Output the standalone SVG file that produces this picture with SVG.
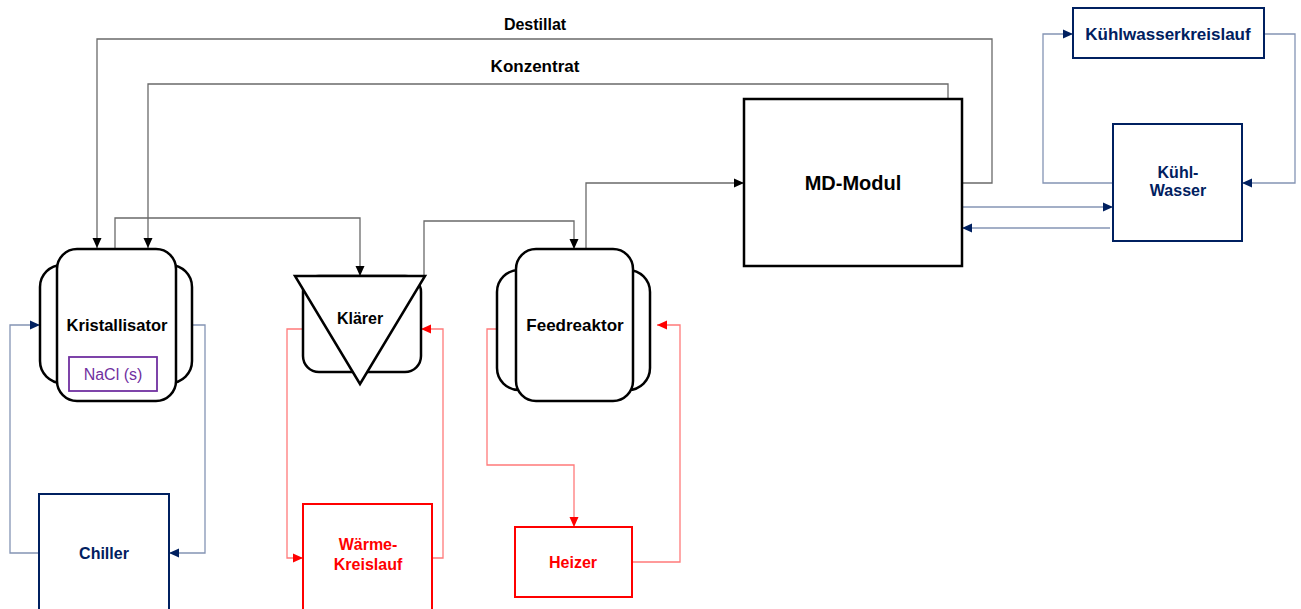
<svg xmlns="http://www.w3.org/2000/svg" width="1301" height="609" viewBox="0 0 1301 609">
<style>
text{font-family:"Liberation Sans",Arial,sans-serif;font-weight:bold;text-anchor:middle}
text.p{font-weight:normal;fill:#7030A0}
.k{fill:#000}
.n{fill:#002060}
.r{fill:#FF0000}
.vessel{fill:#fff;stroke:#000;stroke-width:2.5}
.box-n{fill:#fff;stroke:#002060;stroke-width:2}
.box-r{fill:#fff;stroke:#FF0000;stroke-width:2}
.ck{fill:none;stroke:#6a6a6a;stroke-width:1.3}
.cn{fill:none;stroke:#8494B4;stroke-width:1.3}
.cr{fill:none;stroke:#FF7A7A;stroke-width:1.3}
</style>
<defs>
<marker id="ak" markerUnits="userSpaceOnUse" markerWidth="10" markerHeight="10" refX="10" refY="5" orient="auto"><path d="M0,0.5 L10,5 L0,9.5 z" fill="#000"/></marker>
<marker id="an" markerUnits="userSpaceOnUse" markerWidth="10" markerHeight="10" refX="10" refY="5" orient="auto"><path d="M0,0.5 L10,5 L0,9.5 z" fill="#002060"/></marker>
<marker id="ar" markerUnits="userSpaceOnUse" markerWidth="10" markerHeight="10" refX="10" refY="5" orient="auto"><path d="M0,0.5 L10,5 L0,9.5 z" fill="#FF0000"/></marker>
</defs>
<rect width="1301" height="609" fill="#fff"/>

<g id="connectors">
<path class="ck" d="M962,183 H992 V39 H97 V248" marker-end="url(#ak)"/>
<path class="ck" d="M948,99 V84 H148 V248" marker-end="url(#ak)"/>
<path class="ck" d="M115,248 V218 H360 V276" marker-end="url(#ak)"/>
<path class="ck" d="M424,276 V221 H574 V249" marker-end="url(#ak)"/>
<path class="ck" d="M586,249 V183 H744" marker-end="url(#ak)"/>
<path class="cn" d="M962,207 H1113" marker-end="url(#an)"/>
<path class="cn" d="M1110,228 H962" marker-end="url(#an)"/>
<path class="cn" d="M1113,183 H1043 V34 H1073" marker-end="url(#an)"/>
<path class="cn" d="M1264,34 H1295 V183 H1242" marker-end="url(#an)"/>
<path class="cn" d="M39,553 H10 V325 H40" marker-end="url(#an)"/>
<path class="cn" d="M192,325 H205 V553 H169" marker-end="url(#an)"/>
<path class="cr" d="M303,329 H287 V558 H303" marker-end="url(#ar)"/>
<path class="cr" d="M432,558 H443 V329 H421" marker-end="url(#ar)"/>
<path class="cr" d="M497,329 H487 V465 H574 V527" marker-end="url(#ar)"/>
<path class="cr" d="M632,562 H680 V325 H657" marker-end="url(#ar)"/>
<text class="k" x="535" y="30" font-size="16">Destillat</text>
<text class="k" x="535" y="72" font-size="17">Konzentrat</text>
</g>

<g id="kristallisator">
<rect class="vessel" x="40" y="265" width="152" height="118" rx="22"/>
<rect class="vessel" x="57" y="249" width="119" height="152" rx="20"/>
<text class="k" x="117" y="331" font-size="16.5">Kristallisator</text>
<rect x="69" y="357" width="88" height="34" fill="#fff" stroke="#7030A0" stroke-width="1.8"/>
<text class="p" x="113" y="380" font-size="16">NaCl (s)</text>
</g>

<g id="klaerer">
<rect class="vessel" x="303" y="276" width="118" height="96" rx="16"/>
<path class="vessel" d="M295,276 H425 L360,384 z" stroke-linejoin="miter"/>
<text class="k" x="360" y="324" font-size="16">Klärer</text>
</g>

<g id="feedreaktor">
<rect class="vessel" x="497" y="270" width="153" height="120" rx="22"/>
<rect class="vessel" x="516" y="249" width="117" height="152" rx="20"/>
<text class="k" x="575" y="331" font-size="17">Feedreaktor</text>
</g>

<g id="md-modul">
<rect class="vessel" x="744" y="99" width="218" height="167"/>
<text class="k" x="853" y="190" font-size="20">MD-Modul</text>
</g>

<g id="kuehlwasserkreislauf">
<rect class="box-n" x="1073" y="8" width="191" height="50"/>
<text class="n" x="1168" y="40" font-size="17">Kühlwasserkreislauf</text>
</g>

<g id="kuehl-wasser">
<rect class="box-n" x="1113" y="124" width="129" height="117"/>
<text class="n" x="1178" y="178" font-size="16">Kühl-</text>
<text class="n" x="1178" y="196" font-size="16">Wasser</text>
</g>

<g id="chiller">
<rect class="box-n" x="39" y="494" width="130" height="125"/>
<text class="n" x="104" y="559" font-size="16">Chiller</text>
</g>

<g id="waerme-kreislauf">
<rect class="box-r" x="303" y="504" width="129" height="115"/>
<text class="r" x="368" y="550" font-size="16">Wärme-</text>
<text class="r" x="368" y="570" font-size="16">Kreislauf</text>
</g>

<g id="heizer">
<rect class="box-r" x="515" y="527" width="117" height="70"/>
<text class="r" x="573" y="568" font-size="16">Heizer</text>
</g>
</svg>
